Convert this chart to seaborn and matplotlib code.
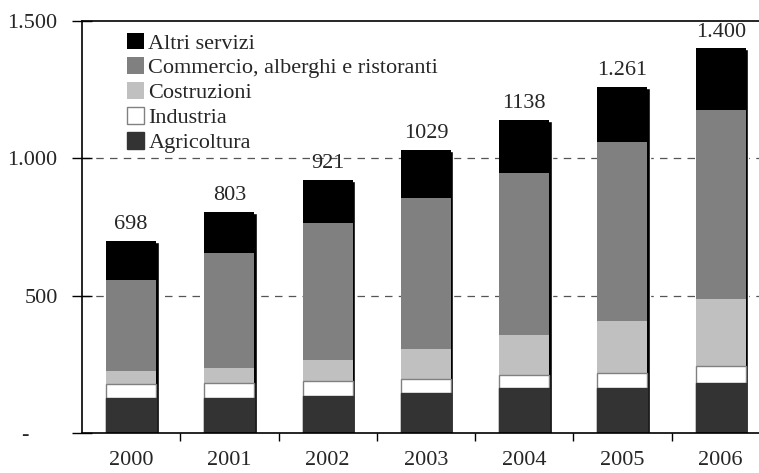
import matplotlib
matplotlib.use('Agg')
import matplotlib.pyplot as plt
import matplotlib.transforms as mtransforms
import seaborn as sns

# data
years = ['2000', '2001', '2002', '2003', '2004', '2005', '2006']
agricoltura = [126, 127, 135, 147, 163, 165, 181]
industria = [52, 54, 53, 48, 49, 55, 63]
costruzioni = [48, 57, 78, 111, 145, 189, 243]
commercio = [331, 418, 500, 551, 591, 651, 689]
altri = [141, 147, 155, 172, 190, 201, 224]
total_labels = ['698', '803', '921', '1029', '1138', '1.261', '1.400']

y_ticks = [0, 500, 1000, 1500]
y_ticklabels = ['-     ', '500', '1.000', '1.500']

sns.set_theme(style='white')
plt.rcParams['font.family'] = ['Liberation Serif', 'DejaVu Serif']
plt.rcParams['font.size'] = 16

fig = plt.figure(figsize=(7.59, 4.73), dpi=100)
ax = fig.add_axes([82 / 759, 40 / 473, 677 / 759, 412 / 473])

# cumulative heights, drawn from the top layer down
cum_ind = [a + b for a, b in zip(agricoltura, industria)]
cum_cos = [a + b for a, b in zip(cum_ind, costruzioni)]
cum_com = [a + b for a, b in zip(cum_cos, commercio)]
cum_tot = [a + b for a, b in zip(cum_com, altri)]

w = 0.51
# drop shadow on the right of every bar
sns.barplot(x=years, y=cum_tot, color='black', width=w, saturation=1,
            errorbar=None, ax=ax)
shift = mtransforms.ScaledTranslation(2.5 / 100, -1 / 100, fig.dpi_scale_trans)
for p in ax.patches:
    p.set_transform(ax.transData + shift)

layers = [
    (cum_tot, 'Altri servizi', '#000000', 'none', 0),
    (cum_com, 'Commercio, alberghi e ristoranti', '#808080', 'none', 0),
    (cum_cos, 'Costruzioni', '#c0c0c0', 'none', 0),
    (cum_ind, 'Industria', '#ffffff', '#808080', 1.0),
    (agricoltura, 'Agricoltura', '#333333', '#333333', 1.0),
]
for vals, lab, col, ec, lw in layers:
    sns.barplot(x=years, y=vals, color=col, width=w, saturation=1,
                errorbar=None, label=lab, edgecolor=ec, linewidth=lw, ax=ax)

# totals above the bars
ax.bar_label(ax.containers[1], labels=total_labels, padding=5, fontsize=16)

ax.set_ylim(0, 1500)
ax.set_xlim(-0.5, 6.39)
ax.set_yticks(y_ticks)
ax.set_yticklabels(y_ticklabels)
ax.tick_params(axis='y', which='major', direction='inout', length=15, width=1,
               pad=10, color='black', left=True, labelsize=16)
ax.set_xticks(range(len(years)))
ax.set_xticks([i + 0.5 for i in range(len(years) - 1)], minor=True)
ax.tick_params(axis='x', which='major', length=0, pad=13, labelsize=16)
ax.tick_params(axis='x', which='minor', direction='out', length=6, width=1,
               color='black', bottom=True)
ax.set_xlabel('')
ax.set_ylabel('')

# dashed grid lines only at 500 and 1000
ax.grid(axis='y', ls=(0, (6, 5)), color='#555555', lw=0.9)
gl = ax.get_ygridlines()
gl[0].set_visible(False)
gl[-1].set_visible(False)
ax.set_axisbelow(True)

for s in ['left', 'bottom', 'top']:
    ax.spines[s].set_visible(True)
    ax.spines[s].set_color('black')
    ax.spines[s].set_linewidth(1.2)
ax.spines['right'].set_visible(False)

ax.legend(loc='upper left', bbox_to_anchor=(0.066, 0.972), frameon=False,
          borderaxespad=0, borderpad=0, fontsize=16, handlelength=0.78,
          handleheight=0.78, handletextpad=0.2, labelspacing=0.17)

fig.savefig('out.png', dpi=100)
